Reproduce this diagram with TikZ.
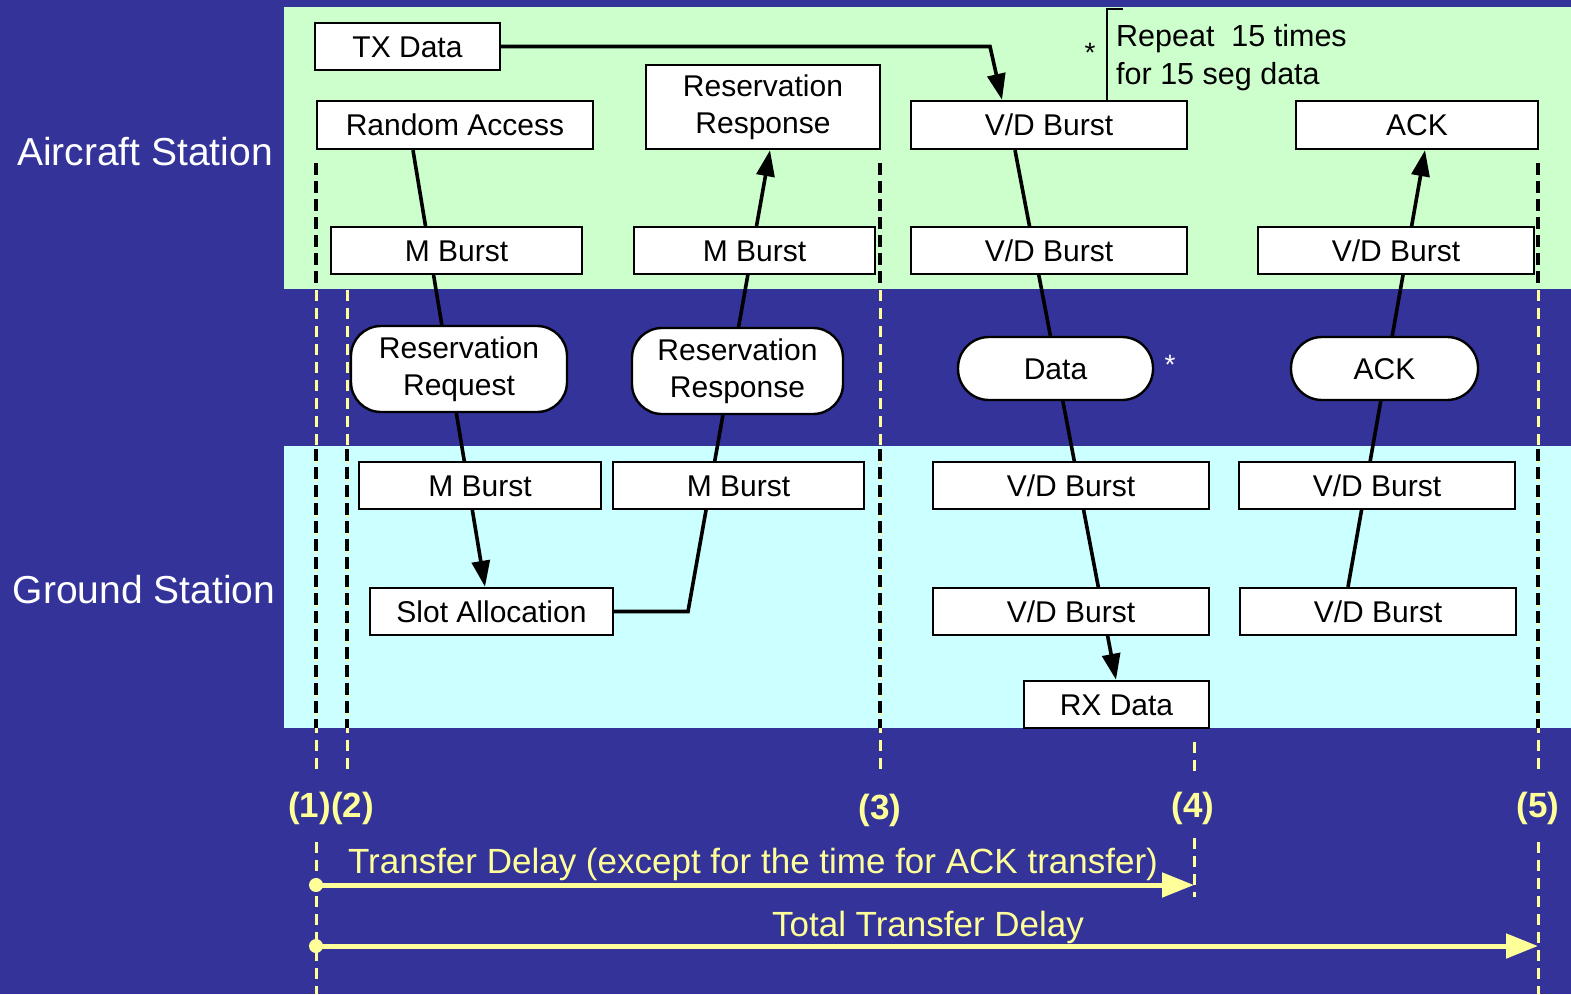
\documentclass[tikz,border=0pt]{standalone}
\usepackage{fontspec}
\setmainfont{Liberation Sans}
\usetikzlibrary{arrows.meta}
\definecolor{navy}{HTML}{333399}
\definecolor{mint}{HTML}{CCFFCC}
\definecolor{ice}{HTML}{CCFFFF}
\definecolor{pale}{HTML}{FFFF99}
\pgfdeclarelayer{back}
\pgfdeclarelayer{mid}
\pgfsetlayers{back,mid,main}

\begin{document}
\begin{tikzpicture}[x=1pt,y=-1pt,
  wh/.style 2 args={minimum width=#1pt, minimum height=#2pt},
  box/.style={draw=black, fill=white, line width=2.4pt, inner sep=0pt,
    font=\fontsize{30}{37}\selectfont},
  one/.style={box, text height=21.5pt, text depth=0pt},
  two/.style={box, align=center},
  pill/.style={two, rounded corners=30pt},
  link/.style={draw=black, line width=3.6pt},
  arr/.style={link, -{Triangle[length=26pt,width=18pt]}},
  kdash/.style={draw=black, line width=3.4pt, dash pattern=on 12pt off 6pt},
  ydash/.style={draw=pale, line width=3pt, dash pattern=on 11pt off 7pt},
  station/.style={text=white, font=\fontsize{39}{44}\selectfont, anchor=base, inner sep=0pt},
  timemark/.style={text=pale, font=\bfseries\fontsize{35}{40}\selectfont, anchor=base, inner sep=0pt},
  caption/.style={text=pale, font=\fontsize{35}{40}\selectfont, anchor=base, inner sep=0pt},
  delay/.style={draw=pale, line width=5pt, -{Triangle[length=32pt,width=24pt]}},
  note/.style={font=\fontsize{30.5}{36}\selectfont, anchor=base west, inner sep=0pt},
  star/.style={font=\fontsize{28}{30}\selectfont, anchor=base, inner sep=0pt}
]
\useasboundingbox (0,0) rectangle (1571,994);

% background and the two station bands
\begin{pgfonlayer}{back}
  \fill[navy] (0,0) rectangle (1571,994);
  \fill[mint] (284,7) rectangle (1571,289);
  \fill[ice] (284,446) rectangle (1571,728);
\end{pgfonlayer}

% station names
\node[station] (air) at (145,165.5) {Aircraft Station};
\node[station] (gnd) at (144,603) {Ground Station};

% aircraft station row
\node[one, wh={185}{47}] (tx) at (407.5,46.5) {TX Data};
\node[one, wh={276}{48}] (ra) at (455,125) {Random Access};
\node[two, wh={234}{84}] (rrtop) at (763,107) {Reservation\\Response};
\node[one, wh={276}{48}] (vdA) at (1049,125) {V/D Burst};
\node[one, wh={242}{48}] (ackA) at (1417,125) {ACK};
\node[one, wh={251}{47}] (mbA) at (456.5,250.5) {M Burst};
\node[one, wh={241}{47}] (mbB) at (754.5,250.5) {M Burst};
\node[one, wh={276}{47}] (vdB) at (1049,250.5) {V/D Burst};
\node[one, wh={276}{47}] (vdC) at (1396,250.5) {V/D Burst};

% messages on the air link
\node[pill, wh={216}{86}] (rreq) at (459,369) {Reservation\\Request};
\node[pill, wh={211}{86}] (rresp) at (737.5,371) {Reservation\\Response};
\node[one, wh={195}{63}, rounded corners=31pt] (data) at (1055.5,368.5) {Data};
\node[one, wh={187}{63}, rounded corners=31pt] (ackB) at (1384.5,368.5) {ACK};

% ground station row
\node[one, wh={242}{47}] (mbC) at (480,485.5) {M Burst};
\node[one, wh={251}{47}] (mbD) at (738.5,485.5) {M Burst};
\node[one, wh={276}{47}] (vdD) at (1071,485.5) {V/D Burst};
\node[one, wh={276}{47}] (vdE) at (1377,485.5) {V/D Burst};
\node[one, wh={243}{47}] (slot) at (491.5,611.5) {Slot Allocation};
\node[one, wh={276}{47}] (vdF) at (1071,611.5) {V/D Burst};
\node[one, wh={276}{47}] (vdG) at (1378,611.5) {V/D Burst};
\node[one, wh={185}{47}] (rx) at (1116.5,704.5) {RX Data};

% repetition note
\node[note] (rep1) at (1116,46) {Repeat\ \ 15 times};
\node[note] (rep2) at (1116,84) {for 15 seg data};
\node[star] (st1) at (1090,62) {*};
\node[star, text=white] (st2) at (1170,374) {*};

% time marks
\node[timemark] (m1) at (309.5,817) {(1)};
\node[timemark] (m2) at (352.5,817) {(2)};
\node[timemark] (m3) at (880,819) {(3)};
\node[timemark] (m4) at (1193,817) {(4)};
\node[timemark] (m5) at (1538,817) {(5)};

\coordinate (d1) at (316,885);
\coordinate (d4) at (1194,885);
\coordinate (e1) at (316,946);
\coordinate (e5) at (1538,946);

\node[caption] (cap1) at (753,873) {Transfer Delay (except for the time for ACK transfer)};
\node[caption] (cap2) at (928,936) {Total Transfer Delay};

\begin{pgfonlayer}{mid}
  % timeline guides: yellow below the aircraft band
  \foreach \x in {316,347,880,1538} \draw[ydash] (\x,290) -- (\x,772);
  \foreach \x in {316,1538} \draw[ydash] (\x,842) -- (\x,994);
  \draw[ydash] (1194,742) -- (1194,772);
  \draw[ydash] (1194,838) -- (1194,897);
  % black guides inside the station bands
  \foreach \x in {316,880,1538} \draw[kdash] (\x,163) -- (\x,289);
  \foreach \x in {316,347,880,1538} \draw[kdash] (\x,449) -- (\x,728);

  % bracket of the note
  \draw[line width=1.2pt] (1123,9) -- (1107,9) -- (1107,101) -- (1123,101);

  % message flows
  \draw[arr] (ra.south -| 413,0) -- (slot.north -| 485,0);
  \draw[arr] (slot.east) -- (slot.east -| 688,0) -- (rrtop.south -| 770,0);
  \draw[arr] (tx.east) -- (tx.east -| 990,0) -- (vdA.north -| 1002,0);
  \draw[arr] (vdA.south -| 1015,0) -- (rx.north -| 1116,0);
  \draw[arr] (vdG.north -| 1348,0) -- (ackA.south -| 1425,0);

  % delay spans
  \draw[delay] (d1) -- (d4);
  \draw[delay] (e1) -- (e5);
  \fill[pale] (d1) circle (7pt) (e1) circle (7pt);
\end{pgfonlayer}
\end{tikzpicture}
\end{document}
